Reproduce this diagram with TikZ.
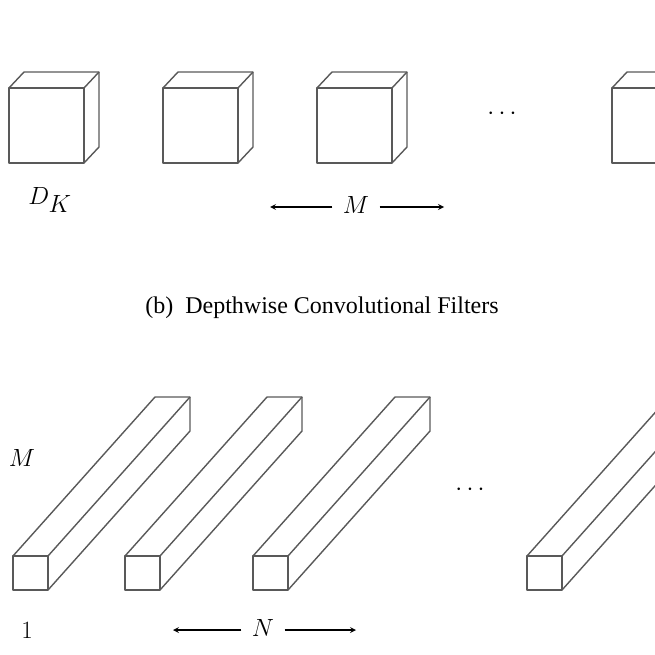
\documentclass[tikz,border=0pt]{standalone}
\usepackage{fontspec}
\newfontfamily\capfont{Liberation Serif}
\begin{document}
\begin{tikzpicture}[x=1pt,y=-1pt,
  edge/.style={draw=black!65,line width=1.4pt,line join=round},
  lbl/.style={font=\fontsize{40}{44}\selectfont},
  arr/.style={-stealth,line width=1.6pt}]
\useasboundingbox (0,0) rectangle (655,655);
\clip (0,0) rectangle (655,655);
% cubes: front x, size 75, offset (15,-16)
\foreach \x/\n in {9/c1,163/c2,317/c3,612/c4}{
  \draw[edge] (\x,88) rectangle ++(75,75);
  \draw[edge] (\x,88) -- ++(15,-16) -- ++(75,0) -- ++(0,75) -- ++(-15,16);
  \draw[edge] (\x+75,88) -- ++(15,-16);
}
\node (dots1) at (502,114) {\fontsize{40}{44}\selectfont$\cdots$};
\node[lbl] (dk) at (50,200) {$D_K$};
\node[lbl] (m1) at (356,205) {$M$};
\coordinate (m1l) at (270,207);
\coordinate (m1r) at (444,207);
\draw[arr] (m1.west) ++(-7,2) coordinate (a) -- (m1l);
\draw[arr] (m1.east) ++(7,2) -- (m1r);
\node (cap) at (322,308) {\capfont\fontsize{24}{28}\selectfont (b)\ \ Depthwise Convolutional Filters};
% bars: front size 35, offset (142,-160)
\foreach \x in {13,125,253,527}{
  \draw[edge] (\x,556) rectangle ++(35,34);
  \draw[edge] (\x,556) -- ++(142,-159) -- ++(35,0) -- ++(0,34) -- ++(-142,159);
  \draw[edge] (\x+35,556) -- ++(142,-159);
}
\node (dots2) at (470,490) {\fontsize{40}{44}\selectfont$\cdots$};
\node[lbl] (m2) at (22,458) {$M$};
\node[lbl] (one) at (27,630) {$1$};
\node[lbl] (n) at (263,628) {$N$};
\draw[arr] (n.west) ++(-7,2) -- (173,630);
\draw[arr] (n.east) ++(7,2) -- (356,630);
\end{tikzpicture}
\end{document}
